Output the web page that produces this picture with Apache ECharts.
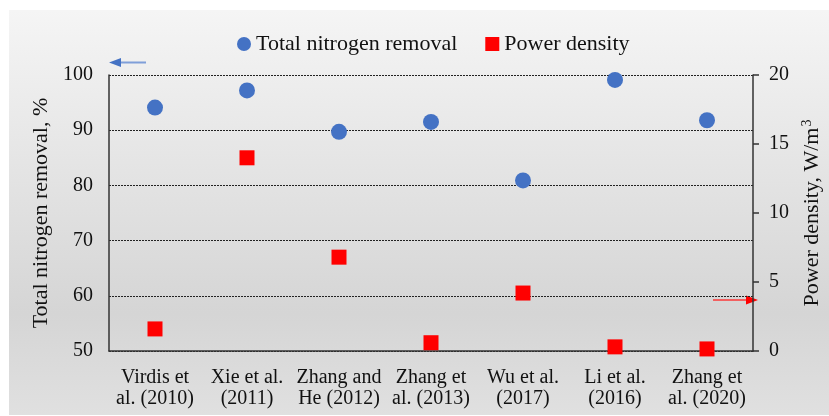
<!DOCTYPE html>
<html>
<head>
<meta charset="utf-8">
<script src="https://cdn.jsdelivr.net/npm/echarts@6/dist/echarts.min.js"></script>
<style>
  html, body { margin: 0; padding: 0; background: #fff; }
  #chart { width: 829px; height: 416px; }
</style>
</head>
<body>
<div id="chart"></div>
<script>
// 数据
var categories = ['Virdis et\nal. (2010)', 'Xie et al.\n(2011)', 'Zhang and\nHe (2012)', 'Zhang et\nal. (2013)', 'Wu et al.\n(2017)', 'Li et al.\n(2016)', 'Zhang et\nal. (2020)'];
var nitrogenRemoval = [94.1, 97.2, 89.7, 91.5, 80.9, 99.1, 91.8];
var powerDensity = [1.6, 14.0, 6.8, 0.6, 4.2, 0.3, 0.15];
var leftTicks = { min: 50, max: 100, interval: 10 };
var rightTicks = { min: 0, max: 20, interval: 5 };

var font = 'Liberation Serif';
var chart = echarts.init(document.getElementById('chart'));

var option = {
  animation: false,
  textStyle: { fontFamily: font },
  graphic: [
    {
      type: 'rect', z: -10, silent: true,
      shape: { x: 9, y: 10, width: 820, height: 405 },
      style: {
        fill: new echarts.graphic.LinearGradient(0, 0, 0, 1, [
          { offset: 0, color: '#f5f5f5' },
          { offset: 0.75, color: '#d5d5d5' },
          { offset: 1, color: '#e0e0e0' }
        ])
      }
    },
    // 左侧箭头
    { type: 'line', shape: { x1: 146, y1: 62.5, x2: 118, y2: 62.5 }, style: { stroke: '#7f9fd9', lineWidth: 2 } },
    { type: 'polygon', shape: { points: [[109, 62.5], [121, 58], [121, 67]] }, style: { fill: '#4472c4' } },
    // 右侧箭头
    { type: 'line', shape: { x1: 713, y1: 300, x2: 748, y2: 300 }, style: { stroke: '#f26060', lineWidth: 2 } },
    { type: 'polygon', shape: { points: [[758, 300], [746, 295.5], [746, 304.5]] }, style: { fill: '#ff0000' } }
  ],
  legend: {
    top: 28,
    left: 232,
    itemGap: 28,
    itemWidth: 14,
    itemHeight: 14,
    textStyle: { fontFamily: font, fontSize: 22, color: '#111' },
    data: [
      { name: 'Total nitrogen removal', icon: 'circle' },
      { name: 'Power density', icon: 'rect' }
    ]
  },
  grid: { left: 109, right: 76, top: 75, bottom: 65, outerBoundsMode: 'none' },
  xAxis: {
    type: 'category',
    data: categories,
    axisLine: { lineStyle: { color: '#333', width: 1.5 } },
    axisTick: { show: false },
    axisLabel: { color: '#111', fontSize: 20, fontFamily: font, lineHeight: 21, margin: 16, interval: 0 }
  },
  yAxis: [
    {
      type: 'value',
      min: leftTicks.min, max: leftTicks.max, interval: leftTicks.interval,
      name: 'Total nitrogen removal, %',
      nameLocation: 'middle',
      nameGap: 53,
      nameTextStyle: { color: '#111', fontSize: 22, fontFamily: font },
      axisLine: { show: true, lineStyle: { color: '#333', width: 1.5 } },
      axisTick: { show: false },
      axisLabel: { color: '#111', fontSize: 20, fontFamily: font, margin: 16 },
      splitLine: { show: true, lineStyle: { color: '#222', type: [2, 1], width: 1 } }
    },
    {
      type: 'value',
      min: rightTicks.min, max: rightTicks.max, interval: rightTicks.interval,
      name: 'Power density, W/m{sup|3}',
      nameLocation: 'middle',
      nameGap: 44,
      nameRotate: 90,
      nameTextStyle: {
        color: '#111', fontSize: 22, fontFamily: font,
        rich: { sup: { fontSize: 14, fontFamily: font, color: '#111', verticalAlign: 'top', padding: [0, 0, 10, 1] } }
      },
      axisLine: { show: true, lineStyle: { color: '#333', width: 1.5 } },
      axisTick: { show: true, inside: false, length: 6, lineStyle: { color: '#333', width: 1.5 } },
      axisLabel: { color: '#111', fontSize: 20, fontFamily: font, margin: 16 },
      splitLine: { show: false }
    }
  ],
  series: [
    {
      name: 'Total nitrogen removal',
      type: 'scatter',
      yAxisIndex: 0,
      symbol: 'circle',
      symbolSize: 16,
      itemStyle: { color: '#4472c4', opacity: 1 },
      data: nitrogenRemoval
    },
    {
      name: 'Power density',
      type: 'scatter',
      yAxisIndex: 1,
      symbol: 'rect',
      symbolSize: 15,
      itemStyle: { color: '#ff0000', opacity: 1 },
      data: powerDensity
    }
  ]
};

chart.setOption(option);
</script>
</body>
</html>
